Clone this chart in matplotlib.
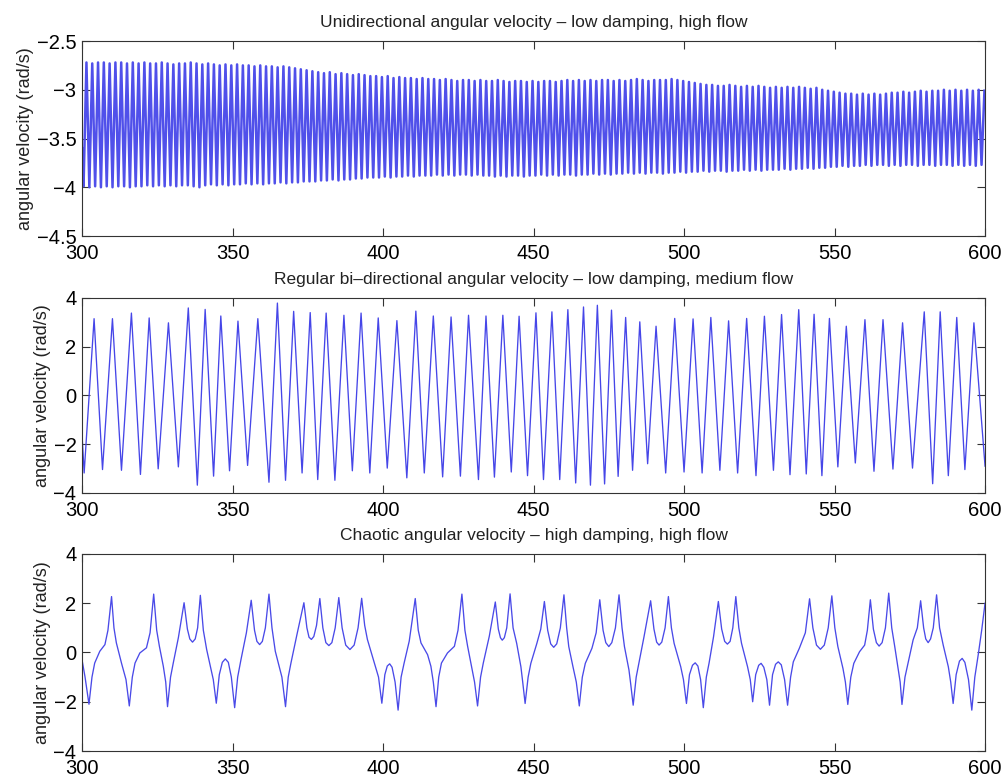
import numpy as np
import matplotlib

matplotlib.use("Agg")
import matplotlib.pyplot as plt
from matplotlib.ticker import FuncFormatter

plt.rcParams.update(
    {
        "font.family": ["Liberation Sans", "DejaVu Sans"],
        "axes.unicode_minus": True,
    }
)

# --- unidirectional run: successive trough / crest values of the fast oscillation
uni_start = -3.6
uni_troughs = [
    -3.99, -4.00, -3.99, -4.00, -3.99, -4.00, -3.99, -3.99, -4.00, -3.99,
    -3.99, -3.98, -3.99, -3.98, -3.99, -3.98, -3.99, -3.98, -3.98, -3.99,
    -4.00, -3.98, -3.97, -3.98, -3.97, -3.98, -3.97, -3.97, -3.96, -3.97,
    -3.96, -3.97, -3.96, -3.96, -3.95, -3.96, -3.95, -3.95, -3.94, -3.94,
    -3.94, -3.93, -3.93, -3.92, -3.93, -3.92, -3.92, -3.91, -3.91, -3.90,
    -3.90, -3.90, -3.89, -3.90, -3.89, -3.89, -3.88, -3.89, -3.88, -3.88,
    -3.88, -3.87, -3.88, -3.87, -3.88, -3.87, -3.87, -3.88, -3.87, -3.88,
    -3.88, -3.89, -3.88, -3.89, -3.88, -3.88, -3.89, -3.88, -3.88, -3.87,
    -3.88, -3.87, -3.88, -3.87, -3.87, -3.88, -3.87, -3.87, -3.86, -3.87,
    -3.86, -3.87, -3.86, -3.86, -3.85, -3.86, -3.85, -3.86, -3.85, -3.85,
    -3.86, -3.85, -3.85, -3.84, -3.85, -3.84, -3.84, -3.83, -3.84, -3.83,
    -3.83, -3.84, -3.83, -3.83, -3.82, -3.83, -3.82, -3.83, -3.82, -3.82,
    -3.82, -3.81, -3.82, -3.81, -3.81, -3.80, -3.81, -3.80, -3.80, -3.79,
    -3.79, -3.78, -3.79, -3.78, -3.78, -3.77, -3.78, -3.77, -3.77, -3.78,
    -3.77, -3.78, -3.77, -3.77, -3.78, -3.77, -3.77, -3.78, -3.77, -3.77,
    -3.78, -3.77, -3.78, -3.77, -3.78, -3.77,
]
uni_crests = [
    -2.72, -2.73, -2.72, -2.72, -2.73, -2.72, -2.72, -2.73, -2.72, -2.73,
    -2.72, -2.73, -2.73, -2.72, -2.73, -2.74, -2.73, -2.73, -2.72, -2.73,
    -2.74, -2.73, -2.74, -2.75, -2.74, -2.75, -2.74, -2.75, -2.75, -2.76,
    -2.75, -2.76, -2.76, -2.77, -2.76, -2.77, -2.78, -2.79, -2.80, -2.81,
    -2.82, -2.83, -2.82, -2.84, -2.83, -2.84, -2.85, -2.84, -2.85, -2.86,
    -2.86, -2.87, -2.86, -2.88, -2.87, -2.88, -2.88, -2.89, -2.88, -2.89,
    -2.89, -2.90, -2.89, -2.90, -2.91, -2.90, -2.90, -2.91, -2.90, -2.91,
    -2.91, -2.90, -2.91, -2.92, -2.91, -2.91, -2.92, -2.91, -2.92, -2.91,
    -2.91, -2.92, -2.91, -2.90, -2.91, -2.90, -2.91, -2.90, -2.91, -2.90,
    -2.90, -2.91, -2.90, -2.91, -2.90, -2.89, -2.90, -2.91, -2.90, -2.90,
    -2.90, -2.89, -2.90, -2.91, -2.92, -2.93, -2.94, -2.95, -2.95, -2.96,
    -2.96, -2.95, -2.96, -2.97, -2.96, -2.97, -2.96, -2.97, -2.98, -2.97,
    -2.98, -2.97, -2.98, -2.97, -2.98, -2.99, -2.98, -3.00, -3.01, -3.02,
    -3.03, -3.04, -3.04, -3.05, -3.04, -3.05, -3.04, -3.05, -3.04, -3.03,
    -3.03, -3.02, -3.03, -3.02, -3.01, -3.02, -3.01, -3.01, -3.00, -3.01,
    -3.00, -3.01, -3.00, -3.01, -3.00, -3.01,
]

# --- regular bi-directional run: turning points (time, value)
bi_t = [
    300.0, 300.7, 304.0, 306.8, 310.1, 313.1, 316.4, 319.4, 322.3, 325.3,
    328.7, 332.0, 335.3, 338.3, 340.9, 343.7, 346.1, 349.0, 351.8, 355.0,
    358.4, 362.1, 364.9, 367.6, 370.3, 373.1, 375.8, 378.3, 381.1, 384.0,
    387.0, 389.8, 392.7, 395.6, 398.4, 401.4, 404.6, 407.9, 410.9, 413.7,
    416.7, 419.8, 422.6, 425.7, 428.4, 431.7, 434.2, 437.0, 439.8, 442.6,
    445.2, 448.0, 450.8, 453.3, 456.1, 458.7, 461.4, 464.0, 466.6, 468.9,
    471.2, 473.6, 475.9, 478.1, 480.6, 482.9, 485.3, 487.9, 490.7, 493.9,
    496.9, 500.0, 503.0, 506.0, 508.9, 511.9, 514.8, 517.8, 520.8, 523.9,
    526.7, 529.7, 532.4, 535.2, 538.1, 540.6, 543.2, 545.8, 548.3, 551.1,
    553.9, 556.9, 560.1, 563.1, 566.1, 569.4, 572.6, 575.9, 579.8, 582.6,
    585.1, 587.8, 590.6, 593.3, 596.3, 600.0,
]
bi_v = [
    -1.6, -3.18, 3.15, -3.04, 3.15, -3.07, 3.38, -3.24, 3.18, -3.01,
    2.98, -2.93, 3.59, -3.68, 3.53, -3.31, 3.26, -3.09, 3.05, -2.87,
    3.15, -3.56, 3.79, -3.48, 3.45, -3.18, 3.40, -3.45, 3.38, -3.48,
    3.29, -3.09, 3.38, -3.18, 3.18, -2.98, 3.07, -3.38, 3.46, -3.18,
    3.26, -3.34, 3.22, -3.31, 3.29, -3.45, 3.26, -3.35, 3.29, -3.14,
    3.25, -3.29, 3.39, -3.45, 3.43, -3.45, 3.52, -3.59, 3.63, -3.68,
    3.70, -3.63, 3.50, -3.32, 3.20, -3.07, 3.02, -2.80, 2.84, -3.18,
    3.16, -3.14, 3.14, -3.18, 3.20, -3.07, 3.06, -3.18, 3.16, -3.29,
    3.25, -3.07, 3.32, -3.25, 3.52, -3.22, 3.33, -3.29, 3.16, -2.93,
    2.84, -2.77, 3.11, -3.11, 3.11, -3.02, 2.98, -2.98, 3.43, -3.62,
    3.43, -3.29, 3.20, -3.04, 2.98, -2.90,
]

# --- chaotic run: traced points (time, value)
chaotic = [
    (300.0, -0.30), (301.0, -1.00), (302.3, -2.10), (303.3, -1.00), (304.2, -0.43),
    (305.9, 0.05), (307.6, 0.32), (308.6, 0.90), (309.8, 2.27), (310.6, 1.00),
    (311.4, 0.39), (313.1, -0.43), (314.6, -1.10), (315.7, -2.17), (316.7, -1.00),
    (317.6, -0.43), (319.2, -0.02), (321.4, 0.19), (322.6, 0.80), (323.8, 2.37),
    (324.8, 0.90), (325.7, 0.25), (327.0, -0.56), (327.8, -1.20), (328.4, -2.20),
    (329.4, -1.00), (330.3, -0.43), (332.0, 0.60), (333.9, 2.02), (335.0, 0.95),
    (335.8, 0.55), (336.7, 0.42), (337.6, 0.55), (338.4, 1.00), (339.3, 2.32),
    (340.3, 0.90), (341.4, 0.12), (343.6, -1.10), (344.6, -2.06), (345.6, -0.90),
    (346.6, -0.40), (347.6, -0.26), (348.6, -0.40), (349.6, -1.00), (350.7, -2.24),
    (351.7, -1.00), (352.8, -0.29), (354.6, 0.80), (356.2, 2.12), (357.3, 0.90),
    (358.1, 0.45), (359.0, 0.32), (359.9, 0.45), (360.9, 1.00), (362.1, 2.37),
    (363.1, 1.00), (364.2, 0.05), (366.4, -1.00), (367.6, -2.20), (368.5, -1.00),
    (369.4, -0.43), (371.4, 0.73), (373.7, 2.02), (374.7, 1.00), (375.4, 0.62),
    (376.2, 0.53), (377.0, 0.65), (377.9, 1.10), (379.0, 2.19), (380.0, 1.00),
    (381.0, 0.40), (382.0, 0.28), (383.0, 0.40), (384.1, 1.00), (385.3, 2.23),
    (386.4, 1.00), (387.6, 0.30), (389.0, 0.12), (390.4, 0.30), (391.7, 1.00),
    (392.9, 2.20), (393.9, 1.10), (394.8, 0.53), (396.8, -0.29), (398.5, -1.00),
    (399.6, -2.06), (400.6, -0.90), (401.4, -0.55), (402.2, -0.46), (403.0, -0.60),
    (404.0, -1.20), (405.0, -2.34), (406.0, -1.00), (407.0, -0.43), (408.7, 0.46),
    (410.7, 2.19), (411.7, 0.90), (412.6, 0.39), (414.8, -0.09), (415.9, -0.56),
    (416.7, -1.20), (417.6, -2.20), (418.5, -1.00), (419.4, -0.43), (421.4, -0.02),
    (423.7, 0.25), (424.9, 0.90), (426.2, 2.37), (427.2, 0.90), (428.1, 0.25),
    (429.4, -0.56), (430.4, -1.20), (431.4, -2.17), (432.4, -1.00), (433.3, -0.43),
    (435.3, 0.66), (437.3, 2.05), (438.3, 0.95), (439.0, 0.60), (439.6, 0.50),
    (440.3, 0.60), (441.1, 1.00), (442.2, 2.38), (443.2, 1.00), (444.4, 0.37),
    (445.8, -0.58), (446.4, -1.20), (447.2, -2.07), (448.2, -1.00), (449.1, -0.44),
    (451.1, 0.37), (452.4, 0.95), (453.6, 2.07), (454.7, 0.90), (455.7, 0.35),
    (456.7, 0.21), (457.7, 0.35), (458.9, 1.00), (460.1, 2.34), (461.0, 1.00),
    (461.7, 0.24), (463.1, -0.58), (464.2, -1.20), (465.2, -2.17), (466.2, -1.00),
    (467.2, -0.44), (469.4, 0.17), (470.8, 0.80), (472.0, 2.14), (473.1, 0.90),
    (474.0, 0.40), (475.0, 0.24), (476.0, 0.40), (477.2, 1.00), (478.4, 2.34),
    (479.4, 1.00), (480.2, 0.24), (481.7, -0.71), (482.3, -1.30), (483.1, -2.14),
    (484.1, -1.00), (485.0, -0.44), (486.7, 0.64), (488.9, 2.10), (490.0, 0.95),
    (490.9, 0.42), (491.7, 0.30), (492.6, 0.42), (493.7, 1.00), (494.8, 2.27),
    (495.8, 1.00), (496.7, 0.37), (498.9, -0.58), (499.8, -1.10), (500.8, -2.07),
    (501.8, -0.90), (502.8, -0.52), (503.7, -0.42), (504.6, -0.55), (505.5, -1.10),
    (506.4, -2.24), (507.4, -1.00), (508.3, -0.44), (509.8, 0.64), (511.4, 2.07),
    (512.5, 0.95), (513.5, 0.45), (514.4, 0.34), (515.3, 0.45), (516.2, 1.00),
    (517.2, 2.27), (518.2, 1.00), (519.1, 0.37), (521.1, -0.58), (522.0, -1.10),
    (522.8, -2.00), (523.8, -0.90), (524.8, -0.52), (525.6, -0.44), (526.5, -0.60),
    (527.5, -1.10), (528.4, -2.14), (529.4, -0.90), (530.4, -0.48), (531.3, -0.38),
    (532.3, -0.50), (533.4, -1.10), (534.4, -2.14), (535.4, -1.00), (536.3, -0.38),
    (538.3, 0.17), (540.3, 0.80), (541.7, 2.18), (542.8, 1.00), (544.0, 0.30),
    (545.3, 0.13), (546.6, 0.30), (547.9, 1.00), (549.1, 2.30), (550.1, 1.00),
    (551.1, 0.24), (552.8, -0.65), (553.6, -1.20), (554.4, -2.11), (555.4, -1.00),
    (556.4, -0.44), (558.3, 0.03), (560.0, 0.30), (560.9, 0.90), (561.9, 2.14),
    (562.9, 0.95), (563.9, 0.40), (564.8, 0.26), (565.8, 0.40), (566.9, 1.00),
    (568.0, 2.41), (569.0, 1.00), (570.0, 0.24), (571.1, -0.65), (571.8, -1.20),
    (572.4, -2.11), (573.4, -1.00), (574.4, -0.44), (576.1, 0.51), (577.5, 1.00),
    (578.6, 2.10), (579.6, 1.00), (580.3, 0.55), (581.1, 0.40), (581.9, 0.55),
    (582.8, 1.00), (583.9, 2.34), (584.9, 1.00), (586.1, 0.30), (587.8, -0.58),
    (588.6, -1.20), (589.4, -2.07), (590.4, -0.90), (591.5, -0.35), (592.4, -0.24),
    (593.3, -0.40), (594.5, -1.10), (595.6, -2.34), (596.6, -1.00), (597.8, -0.04),
    (598.9, 0.92), (600.0, 2.00),
]

titles = [
    "Unidirectional angular velocity \u2013 low damping, high flow",
    "Regular bi\u2013directional angular velocity \u2013 low damping, medium flow",
    "Chaotic angular velocity \u2013 high damping, high flow",
]
ylims = [(-4.5, -2.5), (-4, 4), (-4, 4)]
yticks = [[-4.5, -4, -3.5, -3, -2.5], [-4, -2, 0, 2, 4], [-4, -2, 0, 2, 4]]
xticks = [300, 350, 400, 450, 500, 550, 600]

# interleave troughs and crests of the fast run on an even time grid
uni_v = np.empty(2 * len(uni_troughs))
uni_v[0::2] = uni_troughs
uni_v[1::2] = uni_crests
uni_v = np.concatenate([[uni_start], uni_v])
uni_t = np.concatenate([[300.0], np.linspace(300.5, 599.8, len(uni_v) - 1)])

ch_t, ch_v = zip(*chaotic)

series = [(uni_t, uni_v), (bi_t, bi_v), (ch_t, ch_v)]
styles = [("#5050ea", 1.8), ("#4646e8", 0.95), ("#4a4ae8", 0.95)]
rects = [
    [0.0818, 0.6978, 0.9003, 0.2497],
    [0.0818, 0.3688, 0.9003, 0.2497],
    [0.0818, 0.0384, 0.9003, 0.2523],
]

fmt = FuncFormatter(lambda v, _: f"{v:g}".replace("-", "\u2212"))

fig = plt.figure(figsize=(10.03, 7.81), dpi=100)
for rect, (t, v), (col, lw), title, ylim, yt in zip(rects, series, styles, titles, ylims, yticks):
    ax = fig.add_axes(rect)
    ax.plot(t, v, color=col, linewidth=lw)
    ax.set_xlim(300, 600)
    ax.set_ylim(*ylim)
    ax.set_xticks(xticks)
    ax.set_yticks(yt)
    ax.yaxis.set_major_formatter(fmt)
    ax.tick_params(direction="in", top=True, right=True, length=6,
                   width=0.8, labelsize=14.5, color="#333333")
    ax.tick_params(axis="x", pad=6)
    ax.tick_params(axis="y", pad=4)
    for s in ax.spines.values():
        s.set_linewidth(0.8)
        s.set_color("#333333")
    ax.set_title(title, fontsize=12.5, pad=10, color="#222222")
    ax.set_ylabel("angular velocity (rad/s)", fontsize=13, labelpad=2,
                  color="#222222")

fig.savefig("out.png", dpi=100, facecolor="white")
